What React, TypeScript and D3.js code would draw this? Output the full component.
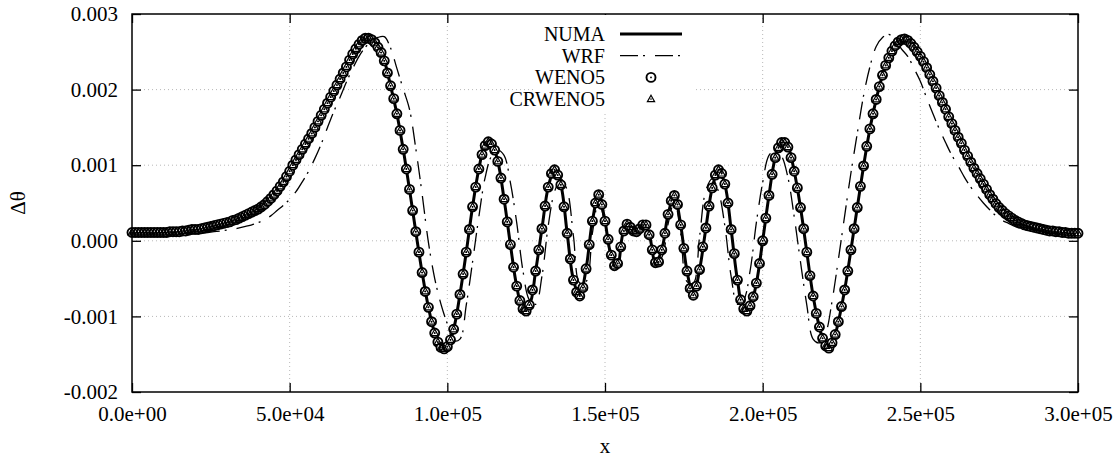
import React, { useEffect, useRef } from 'react';
import * as d3 from 'd3';

// Δθ in units of 1e-3 (multiplied by SCALE when plotted)
const SCALE = 1e-3;

// NUMA, every 2 km from 0 to 300 km
const numa = [
	0.11, 0.11, 0.11, 0.11, 0.11, 0.11, 0.12, 0.12, 0.13, 0.14,
	0.15, 0.16, 0.18, 0.20, 0.22, 0.24, 0.27, 0.30, 0.34, 0.38,
	0.42, 0.48, 0.56, 0.66, 0.78, 0.92, 1.07, 1.21, 1.35, 1.50,
	1.66, 1.82, 1.98, 2.14, 2.30, 2.47, 2.60, 2.68, 2.66, 2.56,
	2.38, 2.05, 1.68, 1.21, 0.68, 0.12, -0.42, -0.88, -1.22, -1.41,
	-1.40, -1.17, -0.71, -0.15, 0.45, 0.95, 1.26, 1.28, 1.05, 0.55,
	-0.05, -0.60, -0.90, -0.85, -0.40, 0.16, 0.71, 0.94, 0.74, 0.10,
	-0.52, -0.73, -0.37, 0.26, 0.61, 0.26, -0.19, -0.30, 0.13, 0.18,
	0.12, 0.21, 0.08, -0.29, -0.12, 0.35, 0.60, 0.21, -0.40, -0.72,
	-0.38, 0.17, 0.70, 0.94, 0.75, 0.15, -0.52, -0.90, -0.86, -0.56,
	0.00, 0.60, 1.10, 1.30, 1.24, 0.92, 0.44, -0.15, -0.73, -1.14,
	-1.39, -1.35, -1.07, -0.65, -0.12, 0.44, 0.99, 1.48, 1.87, 2.19,
	2.42, 2.58, 2.66, 2.65, 2.56, 2.44, 2.29, 2.11, 1.92, 1.74,
	1.55, 1.37, 1.20, 1.04, 0.89, 0.75, 0.61, 0.49, 0.40, 0.33,
	0.27, 0.23, 0.20, 0.18, 0.16, 0.14, 0.13, 0.12, 0.11, 0.10, 0.10
];

// WRF, every 2 km from 0 to 300 km
const wrf = [
	0.07, 0.07, 0.07, 0.07, 0.07, 0.07, 0.08, 0.08, 0.08, 0.09,
	0.09, 0.10, 0.11, 0.12, 0.13, 0.14, 0.15, 0.17, 0.19, 0.21,
	0.24, 0.28, 0.33, 0.40, 0.47, 0.55, 0.65, 0.78, 0.92, 1.09,
	1.28, 1.50, 1.71, 1.90, 2.10, 2.28, 2.44, 2.56, 2.64, 2.69,
	2.70, 2.55, 2.28, 2.01, 1.74, 1.22, 0.62, -0.02, -0.50, -0.84,
	-1.10, -1.32, -1.30, -0.85, -0.28, 0.32, 0.84, 1.12, 1.20, 1.13,
	0.77, 0.24, -0.40, -0.78, -0.84, -0.47, 0.20, 0.65, 0.82, 0.67,
	0.06, -0.56, -0.54, 0.10, 0.52, 0.22, -0.22, -0.32, 0.12, 0.18,
	0.10, 0.21, 0.08, -0.28, -0.22, 0.22, 0.52, 0.10, -0.54, -0.56,
	0.06, 0.67, 0.82, 0.65, 0.20, -0.47, -0.84, -0.78, -0.40, 0.24,
	0.77, 1.13, 1.20, 1.12, 0.84, 0.32, -0.28, -0.85, -1.30, -1.35,
	-1.22, -0.80, -0.25, 0.33, 0.90, 1.42, 1.92, 2.30, 2.57, 2.69,
	2.73, 2.66, 2.54, 2.44, 2.28, 2.11, 1.89, 1.68, 1.48, 1.30,
	1.13, 0.99, 0.84, 0.71, 0.60, 0.50, 0.41, 0.33, 0.27, 0.23,
	0.19, 0.16, 0.14, 0.12, 0.11, 0.10, 0.09, 0.08, 0.08, 0.07, 0.07
];

// WENO5, every 1 km from 0 to 300 km
const weno5 = [
	0.11, 0.11, 0.11, 0.11, 0.11, 0.11, 0.11, 0.11, 0.11, 0.11,
	0.11, 0.11, 0.12, 0.12, 0.12, 0.12, 0.13, 0.13, 0.14, 0.15,
	0.15, 0.15, 0.16, 0.17, 0.18, 0.19, 0.20, 0.21, 0.22, 0.23,
	0.24, 0.25, 0.27, 0.28, 0.30, 0.32, 0.34, 0.36, 0.38, 0.40,
	0.42, 0.45, 0.48, 0.52, 0.56, 0.61, 0.66, 0.72, 0.78, 0.85,
	0.92, 1.00, 1.07, 1.14, 1.21, 1.28, 1.35, 1.42, 1.50, 1.58,
	1.66, 1.74, 1.82, 1.90, 1.98, 2.06, 2.14, 2.22, 2.30, 2.39,
	2.47, 2.54, 2.60, 2.65, 2.68, 2.68, 2.66, 2.62, 2.56, 2.49,
	2.38, 2.22, 2.05, 1.88, 1.68, 1.46, 1.21, 0.95, 0.68, 0.40,
	0.12, -0.15, -0.42, -0.67, -0.88, -1.07, -1.22, -1.34, -1.41, -1.43,
	-1.40, -1.31, -1.17, -0.97, -0.71, -0.44, -0.15, 0.15, 0.45, 0.71,
	0.95, 1.14, 1.26, 1.31, 1.28, 1.20, 1.05, 0.83, 0.55, 0.25,
	-0.05, -0.35, -0.60, -0.79, -0.90, -0.93, -0.85, -0.65, -0.40, -0.12,
	0.16, 0.46, 0.71, 0.89, 0.94, 0.87, 0.74, 0.45, 0.10, -0.24,
	-0.52, -0.68, -0.73, -0.62, -0.37, -0.05, 0.26, 0.50, 0.61, 0.48,
	0.26, 0.02, -0.19, -0.33, -0.30, -0.08, 0.13, 0.22, 0.18, 0.13,
	0.12, 0.16, 0.21, 0.21, 0.08, -0.12, -0.29, -0.28, -0.12, 0.10,
	0.35, 0.53, 0.60, 0.48, 0.21, -0.10, -0.40, -0.63, -0.72, -0.60,
	-0.38, -0.08, 0.17, 0.46, 0.70, 0.87, 0.94, 0.89, 0.75, 0.50,
	0.15, -0.17, -0.52, -0.78, -0.90, -0.93, -0.86, -0.74, -0.56, -0.30,
	0.00, 0.30, 0.60, 0.88, 1.10, 1.23, 1.30, 1.30, 1.24, 1.10,
	0.92, 0.70, 0.44, 0.16, -0.15, -0.46, -0.73, -0.96, -1.14, -1.29,
	-1.39, -1.42, -1.35, -1.24, -1.07, -0.87, -0.65, -0.40, -0.12, 0.16,
	0.44, 0.72, 0.99, 1.25, 1.48, 1.68, 1.87, 2.04, 2.19, 2.32,
	2.42, 2.51, 2.58, 2.63, 2.66, 2.67, 2.65, 2.61, 2.56, 2.50,
	2.44, 2.37, 2.29, 2.20, 2.11, 2.02, 1.92, 1.83, 1.74, 1.64,
	1.55, 1.46, 1.37, 1.29, 1.20, 1.12, 1.04, 0.96, 0.89, 0.82,
	0.75, 0.68, 0.61, 0.55, 0.49, 0.44, 0.40, 0.36, 0.33, 0.30,
	0.27, 0.25, 0.23, 0.21, 0.20, 0.19, 0.18, 0.17, 0.16, 0.15,
	0.14, 0.13, 0.13, 0.12, 0.12, 0.11, 0.11, 0.10, 0.10, 0.10, 0.10
];

// CRWENO5, every 1 km from 0 to 300 km
const crweno5 = [
	0.11, 0.11, 0.11, 0.11, 0.11, 0.11, 0.11, 0.11, 0.11, 0.11,
	0.11, 0.11, 0.12, 0.12, 0.12, 0.12, 0.13, 0.13, 0.14, 0.15,
	0.15, 0.15, 0.16, 0.17, 0.18, 0.19, 0.20, 0.21, 0.22, 0.23,
	0.24, 0.25, 0.27, 0.28, 0.30, 0.32, 0.34, 0.36, 0.38, 0.40,
	0.42, 0.45, 0.48, 0.52, 0.56, 0.61, 0.66, 0.72, 0.78, 0.85,
	0.92, 1.00, 1.07, 1.14, 1.21, 1.28, 1.35, 1.42, 1.50, 1.58,
	1.66, 1.74, 1.82, 1.90, 1.98, 2.06, 2.14, 2.22, 2.30, 2.39,
	2.47, 2.54, 2.60, 2.65, 2.68, 2.68, 2.66, 2.62, 2.56, 2.49,
	2.38, 2.22, 2.05, 1.88, 1.68, 1.46, 1.21, 0.95, 0.68, 0.40,
	0.12, -0.15, -0.42, -0.67, -0.88, -1.07, -1.22, -1.34, -1.41, -1.43,
	-1.40, -1.31, -1.17, -0.97, -0.71, -0.44, -0.15, 0.15, 0.45, 0.71,
	0.95, 1.14, 1.26, 1.31, 1.28, 1.20, 1.05, 0.83, 0.55, 0.25,
	-0.05, -0.35, -0.60, -0.79, -0.90, -0.93, -0.85, -0.65, -0.40, -0.12,
	0.16, 0.46, 0.71, 0.89, 0.94, 0.87, 0.74, 0.45, 0.10, -0.24,
	-0.52, -0.68, -0.73, -0.62, -0.37, -0.05, 0.26, 0.50, 0.61, 0.48,
	0.26, 0.02, -0.19, -0.33, -0.30, -0.08, 0.13, 0.22, 0.18, 0.13,
	0.12, 0.16, 0.21, 0.21, 0.08, -0.12, -0.29, -0.28, -0.12, 0.10,
	0.35, 0.53, 0.60, 0.48, 0.21, -0.10, -0.40, -0.63, -0.72, -0.60,
	-0.38, -0.08, 0.17, 0.46, 0.70, 0.87, 0.94, 0.89, 0.75, 0.50,
	0.15, -0.17, -0.52, -0.78, -0.90, -0.93, -0.86, -0.74, -0.56, -0.30,
	0.00, 0.30, 0.60, 0.88, 1.10, 1.23, 1.30, 1.30, 1.24, 1.10,
	0.92, 0.70, 0.44, 0.16, -0.15, -0.46, -0.73, -0.96, -1.14, -1.29,
	-1.39, -1.42, -1.35, -1.24, -1.07, -0.87, -0.65, -0.40, -0.12, 0.16,
	0.44, 0.72, 0.99, 1.25, 1.48, 1.68, 1.87, 2.04, 2.19, 2.32,
	2.42, 2.51, 2.58, 2.63, 2.66, 2.67, 2.65, 2.61, 2.56, 2.50,
	2.44, 2.37, 2.29, 2.20, 2.11, 2.02, 1.92, 1.83, 1.74, 1.64,
	1.55, 1.46, 1.37, 1.29, 1.20, 1.12, 1.04, 0.96, 0.89, 0.82,
	0.75, 0.68, 0.61, 0.55, 0.49, 0.44, 0.40, 0.36, 0.33, 0.30,
	0.27, 0.25, 0.23, 0.21, 0.20, 0.19, 0.18, 0.17, 0.16, 0.15,
	0.14, 0.13, 0.13, 0.12, 0.12, 0.11, 0.11, 0.10, 0.10, 0.10, 0.10
];

const xTicks = [0, 50000, 100000, 150000, 200000, 250000, 300000];
const xTickLabels = ['0.0e+00', '5.0e+04', '1.0e+05', '1.5e+05', '2.0e+05', '2.5e+05', '3.0e+05'];
const yTicks = [-0.002, -0.001, 0, 0.001, 0.002, 0.003];
const yTickLabels = ['-0.002', '-0.001', '0.000', '0.001', '0.002', '0.003'];
const legendNames = ['NUMA', 'WRF', 'WENO5', 'CRWENO5'];

const W = 1118;
const H = 461;
const margin = { top: 14, right: 40, bottom: 69, left: 132 };
const FONT = '"Liberation Serif", "DejaVu Serif", "Noto Serif", serif';
const FS = 21;
const LEG_FS = 20;

const toPoints = (vals: number[], stepKm: number) =>
	vals.map((v, i) => ({ x: i * stepKm * 1000, y: v * SCALE }));

const drawChart = (el: SVGSVGElement) => {
	const svg = d3.select(el);
	svg.selectAll('*').remove();
	const left = margin.left;
	const right = W - margin.right;
	const top = margin.top;
	const bottom = H - margin.bottom;

	const x = d3.scaleLinear().domain([0, 300000]).range([left, right]);
	const y = d3.scaleLinear().domain([-0.002, 0.003]).range([bottom, top]);

	// grid
	const grid = svg.append('g')
		.attr('stroke', '#b8b8b8')
		.attr('stroke-width', 1)
		.attr('stroke-dasharray', '1,3');
	grid.selectAll('.gx').data(xTicks.slice(1, -1)).join('line')
		.attr('x1', (d) => x(d)).attr('x2', (d) => x(d))
		.attr('y1', top).attr('y2', bottom);
	grid.selectAll('.gy').data(yTicks.slice(1, -1)).join('line')
		.attr('y1', (d) => y(d)).attr('y2', (d) => y(d))
		.attr('x1', left).attr('x2', right);

	// axes, ticks inward and mirrored
	const tick = 9;
	const styleAxis = (g) => {
		g.attr('font-family', null).attr('font-size', null);
		g.select('.domain').remove();
		g.selectAll('.tick line').attr('stroke', '#000').attr('stroke-width', 1.3);
		g.selectAll('text').style('font-family', FONT).style('font-size', `${ FS }px`).attr('fill', '#000');
	};
	svg.append('g').attr('transform', `translate(0,${ bottom })`)
		.call(d3.axisBottom(x).tickValues(xTicks).tickSize(-tick).tickPadding(14)
			.tickFormat((d, i) => xTickLabels[i]))
		.call(styleAxis);
	svg.append('g').attr('transform', `translate(0,${ top })`)
		.call(d3.axisTop(x).tickValues(xTicks).tickSize(-tick).tickFormat(() => ''))
		.call(styleAxis);
	svg.append('g').attr('transform', `translate(${ left },0)`)
		.call(d3.axisLeft(y).tickValues(yTicks).tickSize(-tick).tickPadding(14)
			.tickFormat((d, i) => yTickLabels[i]))
		.call(styleAxis);
	svg.append('g').attr('transform', `translate(${ right },0)`)
		.call(d3.axisRight(y).tickValues(yTicks).tickSize(-tick).tickFormat(() => ''))
		.call(styleAxis);

	const line = d3.line<{ x: number; y: number }>()
		.x((d) => x(d.x)).y((d) => y(d.y))
		.curve(d3.curveCatmullRom.alpha(0.5));

	svg.append('path').datum(toPoints(numa, 2))
		.attr('d', line).attr('fill', 'none')
		.attr('stroke', '#000').attr('stroke-width', 3);
	svg.append('path').datum(toPoints(wrf, 2))
		.attr('d', line).attr('fill', 'none')
		.attr('stroke', '#000').attr('stroke-width', 1.3)
		.attr('stroke-dasharray', '18,5,2,10');

	const circleMark = (g, cx: number, cy: number) => {
		g.append('circle').attr('cx', cx).attr('cy', cy).attr('r', 4.5)
			.attr('fill', '#fff').attr('stroke', '#000').attr('stroke-width', 1.9);
		g.append('circle').attr('cx', cx).attr('cy', cy).attr('r', 0.9).attr('fill', '#000');
	};
	const triMark = (g, cx: number, cy: number) => {
		g.append('path')
			.attr('d', `M${ cx },${ cy - 3.9 }L${ cx + 3.6 },${ cy + 2.5 }L${ cx - 3.6 },${ cy + 2.5 }Z`)
			.attr('fill', 'none').attr('stroke', '#000').attr('stroke-width', 1.2);
		g.append('circle').attr('cx', cx).attr('cy', cy).attr('r', 0.8).attr('fill', '#000');
	};

	const wenoG = svg.append('g');
	toPoints(weno5, 1).forEach((d) => circleMark(wenoG, x(d.x), y(d.y)));
	const crG = svg.append('g');
	toPoints(crweno5, 1).forEach((d) => triMark(crG, x(d.x), y(d.y)));

	// legend (opaque key)
	const key = svg.append('g');
	key.append('rect').attr('x', 533).attr('y', top + 1).attr('width', 162).attr('height', 97)
		.attr('fill', '#fff');
	legendNames.forEach((name, i) => {
		const base = 41 + i * 21.7;
		const cy = base - 7;
		key.append('text').attr('x', 605).attr('y', base)
			.attr('text-anchor', 'end')
			.style('font-family', FONT).style('font-size', `${ LEG_FS }px`)
			.text(name);
		if (i === 0) {
			key.append('line').attr('x1', 620).attr('x2', 682).attr('y1', cy).attr('y2', cy)
				.attr('stroke', '#000').attr('stroke-width', 3);
		} else if (i === 1) {
			key.append('line').attr('x1', 620).attr('x2', 682).attr('y1', cy).attr('y2', cy)
				.attr('stroke', '#000').attr('stroke-width', 1.3).attr('stroke-dasharray', '18,5,2,10');
		} else if (i === 2) {
			circleMark(key, 651, cy);
		} else {
			triMark(key, 651, cy);
		}
	});

	// border
	svg.append('rect').attr('x', left).attr('y', top)
		.attr('width', right - left).attr('height', bottom - top)
		.attr('fill', 'none').attr('stroke', '#000').attr('stroke-width', 1.5);

	svg.append('text').attr('x', (left + right) / 2).attr('y', 453)
		.attr('text-anchor', 'middle')
		.style('font-family', FONT).style('font-size', `${ FS }px`)
		.text('x');
	svg.append('text').attr('transform', `translate(25,${ (top + bottom) / 2 }) rotate(-90)`)
		.attr('text-anchor', 'middle')
		.style('font-family', FONT).style('font-size', `${ FS }px`)
		.text('Δθ');
};

const App = () => {
	const ref = useRef<SVGSVGElement>(null);

	useEffect(() => {
		if (ref.current) drawChart(ref.current);
	}, []);

	return (
		<svg ref={ ref } width={ W } height={ H }
			style={ { position: 'absolute', left: 0, top: 0, background: '#fff' } }/>
	);
};

export default App;
